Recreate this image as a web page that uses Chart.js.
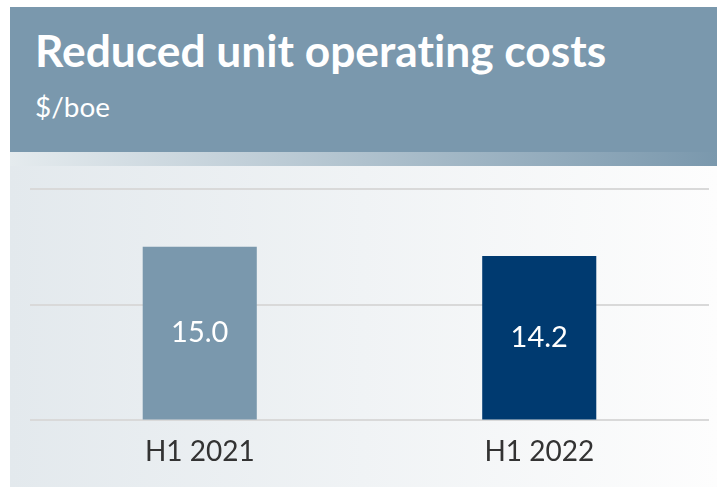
<!DOCTYPE html>
<html>
<head>
<meta charset="utf-8">
<script src="https://cdn.jsdelivr.net/npm/chart.js@4/dist/chart.umd.min.js"></script>
<style>
  html, body { margin: 0; padding: 0; background: #ffffff; width: 717px; height: 487px; overflow: hidden; }
  #panel { position: absolute; left: 10px; top: 7px; width: 707px; height: 480px; }
  #header { position: absolute; left: 0; top: 0; width: 707px; height: 145px; background: #7a98ad; }
  #title { position: absolute; left: 25px; top: 21px; color: #ffffff; font-family: Lato, "Open Sans", sans-serif; font-weight: bold; font-size: 42px; white-space: nowrap; line-height: 1; font-variant-ligatures: none; }
  #subtitle { position: absolute; left: 25px; top: 86px; color: #ffffff; font-family: Lato, "Open Sans", sans-serif; font-size: 27px; white-space: nowrap; line-height: 1; }
  #strip { position: absolute; left: 0; top: 145px; width: 707px; height: 14px; background: linear-gradient(to right, #e5ebee, #7a98ad); }
  #body { position: absolute; left: 0; top: 159px; width: 707px; height: 321px; background: linear-gradient(to right, #e3e9ed, #fdfdfd); }
  #wrap { position: absolute; left: 0; top: 0; width: 707px; height: 321px; }
</style>
</head>
<body>
<div id="panel">
  <div id="header">
    <div id="title">Reduced unit operating costs</div>
    <div id="subtitle">$/boe</div>
  </div>
  <div id="strip"></div>
  <div id="body">
    <div id="wrap"><canvas id="c" width="707" height="321"></canvas></div>
  </div>
</div>
<script>
const categories = ["H1 2021", "H1 2022"];
const values = [15.0, 14.2];
const valueLabels = ["15.0", "14.2"];
const barColors = ["#7a98ad", "#003a70"];

const FONT = 'Lato, "Open Sans", sans-serif';

// fit title width to reference
(function fit() {
  const ctx = document.createElement('canvas').getContext('2d');
  ctx.font = 'bold 100px ' + FONT;
  const w = ctx.measureText(document.getElementById('title').textContent).width;
  document.getElementById('title').style.fontSize = (100 * 572 / w).toFixed(1) + 'px';
  ctx.font = '100px ' + FONT;
  const w2 = ctx.measureText('$/boe').width;
  document.getElementById('subtitle').style.fontSize = (100 * 75 / w2).toFixed(1) + 'px';
})();

const valueLabelPlugin = {
  id: 'valueLabels',
  afterDatasetsDraw(chart) {
    const ctx = chart.ctx;
    const meta = chart.getDatasetMeta(0);
    ctx.save();
    ctx.fillStyle = '#ffffff';
    ctx.font = '29px ' + FONT;
    ctx.textAlign = 'center';
    ctx.textBaseline = 'middle';
    meta.data.forEach((bar, i) => {
      const p = bar.getProps(['x', 'y', 'base'], true);
      ctx.fillText(valueLabels[i], p.x, (p.y + p.base) / 2);
    });
    ctx.restore();
  }
};

new Chart(document.getElementById('c'), {
  type: 'bar',
  data: {
    labels: categories,
    datasets: [{
      data: values,
      backgroundColor: barColors,
      borderWidth: 0,
      barPercentage: 0.336,
      categoryPercentage: 1.0
    }]
  },
  options: {
    responsive: false,
    animation: false,
    devicePixelRatio: 1,
    layout: { padding: { left: 20, right: 8, top: 23, bottom: 3 } },
    plugins: { legend: { display: false }, tooltip: { enabled: false } },
    scales: {
      x: {
        grid: { display: false, drawTicks: false },
        border: { display: false },
        ticks: { color: '#333333', font: { family: FONT, size: 28 }, padding: 15 }
      },
      y: {
        min: 0, max: 20,
        ticks: { display: false, stepSize: 10 },
        grid: { color: '#d9d9d9', lineWidth: 2, drawTicks: false },
        border: { display: false }
      }
    }
  },
  plugins: [valueLabelPlugin]
});
</script>
</body>
</html>
